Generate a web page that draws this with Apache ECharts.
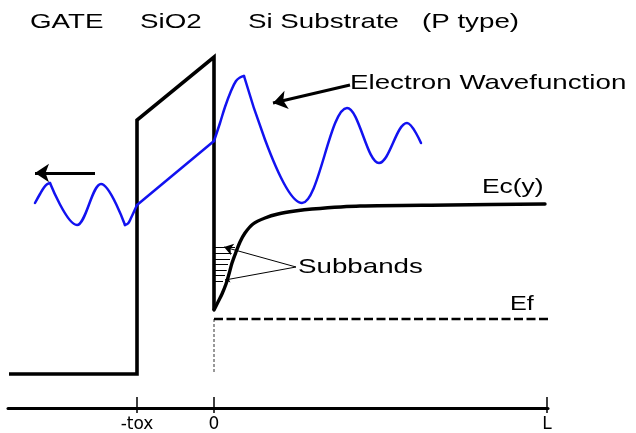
<!DOCTYPE html>
<html>
<head>
<meta charset="utf-8">
<script src="https://cdn.jsdelivr.net/npm/echarts@6/dist/echarts.min.js"></script>
<style>
  html, body { margin: 0; padding: 0; background: #fff; }
  #chart { width: 636px; height: 433px; }
</style>
</head>
<body>
<div id="chart"></div>
<script>
// Position across the MOS stack (0 = Si/SiO2 interface, negative = oxide/gate)
// and electron energy (0 = Fermi level Ef), in drawing units.

// Gate conduction level, oxide barrier and the interface wall
const bandX = [-205, -77, -77, 0, 0];
const bandE = [-55, -55, 199, 262, 9];

// Conduction band edge Ec(y) in the substrate
const ecX = [0, 4, 8, 12, 15, 18, 22, 26, 31, 39, 51, 64, 81, 98, 146, 236, 331];
const ecE = [9, 17, 25, 35, 45, 56, 67, 77, 86, 95, 101, 105, 108, 110, 113, 114, 115];

// Fermi level
const efX = [0, 334];
const efE = [0, 0];

// Interface guide line down to the axis
const guideX = [0, 0];
const guideE = [0, -54];

// Electron wavefunction in the gate: rising start, oscillation (extrema), rise to the oxide
const waveGateStartX = [-179, -174, -170, -167, -164];
const waveGateStartE = [116, 125, 131.5, 134.7, 136];
const waveGateX = [-164, -137, -113, -89];
const waveGateE = [136, 94, 135, 94];
const waveGateEndX = [-89, -86, -83, -77];
const waveGateEndE = [94, 95.5, 101, 114];
// Decay through the oxide
const waveOxideX = [-77, 0];
const waveOxideE = [114, 178];
// Substrate side: rise to the first maximum, then oscillation (extrema)
const waveRiseX = [0, 6, 11, 17, 22, 26, 30];
const waveRiseE = [178, 196, 212, 228, 238, 241.5, 243];
const waveSubX = [30, 88, 133, 165, 193, 207];
const waveSubE = [243, 116, 211, 156, 196, 176];

// Quantised subband levels inside the surface well, and where each meets Ec
const subbandE = [72, 66, 60, 55, 49, 43.5, 37.5];
const subbandEnd = [21, 17.7, 16, 14, 12.7, 11, 9];

// Annotation pointers [from, to]
const subbandPointerFrom = [82, 52];
const subbandPointerTo = [[10, 72], [11, 39]];
const wavePointer = [[136, 234], [59, 216]];
const gateArrow = [[-119, 146], [-179, 146]];

// Bottom position axis
const axisTicks = [-77, 0, 333];
const axisTickLabels = ['-tox', '0', 'L'];

const pts = (xs, es) => xs.map((x, i) => [x, es[i]]);

const BLUE = '#1212f0';
const WAVE_W = 2.5;

const chart = echarts.init(document.getElementById('chart'), null, { renderer: 'canvas' });

function title(text, left, midY, size, sx) {
  return {
    type: 'text',
    x: left,
    y: midY,
    scaleX: sx,
    style: {
      text: text,
      font: size + 'px "Liberation Sans", Arial, sans-serif',
      fill: '#000',
      textAlign: 'left',
      textVerticalAlign: 'middle',
      align: 'left',
      verticalAlign: 'middle'
    }
  };
}

function wave(xs, es, smooth, monotone) {
  return {
    type: 'line', data: pts(xs, es), symbol: 'none',
    smooth: smooth, smoothMonotone: monotone,
    lineStyle: { color: BLUE, width: WAVE_W, cap: 'round', join: 'round' }
  };
}

const option = {
  backgroundColor: '#fff',
  animation: false,
  grid: [
    { left: 0, top: 0, width: 636, height: 433 },
    { left: 8, top: 397, width: 540, height: 11 }
  ],
  xAxis: [
    { gridIndex: 0, type: 'value', min: -214, max: 422, show: false },
    {
      gridIndex: 1, type: 'value', min: -206, max: 334, position: 'bottom',
      axisLine: { show: true, onZero: false, lineStyle: { color: '#000', width: 3 } },
      axisTick: { show: true, inside: true, length: 11, customValues: axisTicks,
                  lineStyle: { color: '#000', width: 1.5 } },
      axisLabel: { show: false },
      splitLine: { show: false }
    },
    {
      gridIndex: 1, type: 'value', min: -206, max: 334, position: 'bottom',
      axisLine: { show: false, onZero: false },
      axisTick: { show: true, inside: false, length: 5, customValues: axisTicks,
                  lineStyle: { color: '#000', width: 1.5 } },
      axisLabel: {
        show: true, customValues: axisTicks, margin: 8,
        formatter: v => axisTickLabels[axisTicks.indexOf(v)],
        fontFamily: 'DejaVu Sans', fontSize: 17, color: '#000'
      },
      splitLine: { show: false }
    }
  ],
  yAxis: [
    { gridIndex: 0, type: 'value', min: -114, max: 319, show: false },
    { gridIndex: 1, type: 'value', min: 0, max: 1, show: false }
  ],
  series: [
    {
      type: 'line', data: pts(guideX, guideE), symbol: 'none',
      lineStyle: { color: '#333', width: 1, type: [3, 2] }
    },
    {
      type: 'line', data: pts(efX, efE), symbol: 'none',
      lineStyle: { color: '#000', width: 2.6, type: [9, 3.5] }
    },
    {
      type: 'line', data: pts(bandX, bandE), symbol: 'none',
      lineStyle: { color: '#000', width: 3.6, join: 'miter' }
    },
    {
      type: 'line', data: pts(ecX, ecE), symbol: 'none', smooth: 0.3,
      lineStyle: { color: '#000', width: 3.4, cap: 'round', join: 'round' }
    },
    {
      type: 'lines', coordinateSystem: 'cartesian2d',
      data: subbandE.map((e, i) => ({ coords: [[0, e], [subbandEnd[i], e]] })),
      lineStyle: { color: '#000', width: 1, opacity: 1 }
    },
    wave(waveGateStartX, waveGateStartE, 0.4),
    wave(waveGateX, waveGateE, 0.37, 'x'),
    wave(waveGateEndX, waveGateEndE, 0.4),
    wave(waveOxideX, waveOxideE, false),
    wave(waveRiseX, waveRiseE, 0.4),
    wave(waveSubX, waveSubE, 0.37, 'x'),
    {
      type: 'lines', coordinateSystem: 'cartesian2d',
      symbol: ['none', 'arrow'], symbolSize: 9,
      data: [{ coords: [subbandPointerFrom, subbandPointerTo[0]] }],
      lineStyle: { color: '#000', width: 1, opacity: 1 }
    },
    {
      type: 'lines', coordinateSystem: 'cartesian2d',
      symbol: ['none', 'arrow'], symbolSize: 5,
      data: [{ coords: [subbandPointerFrom, subbandPointerTo[1]] }],
      lineStyle: { color: '#000', width: 1, opacity: 1 }
    },
    {
      type: 'lines', coordinateSystem: 'cartesian2d',
      symbol: ['none', 'arrow'], symbolSize: 14,
      data: [{ coords: wavePointer }, { coords: gateArrow }],
      lineStyle: { color: '#000', width: 3, opacity: 1 }
    }
  ],
  graphic: [
    title('GATE', 30, 22, 21, 1.32),
    title('SiO2', 140, 22, 21, 1.32),
    title('Si Substrate', 248, 22, 21, 1.32),
    title('(P type)', 422, 22, 21, 1.32),
    title('Electron Wavefunction', 350, 83.5, 21, 1.32),
    title('Ec(y)', 482, 187.5, 20, 1.32),
    title('Subbands', 298, 267, 21, 1.32),
    title('Ef', 510, 304, 21, 1.2)
  ]
};

chart.setOption(option);
</script>
</body>
</html>
